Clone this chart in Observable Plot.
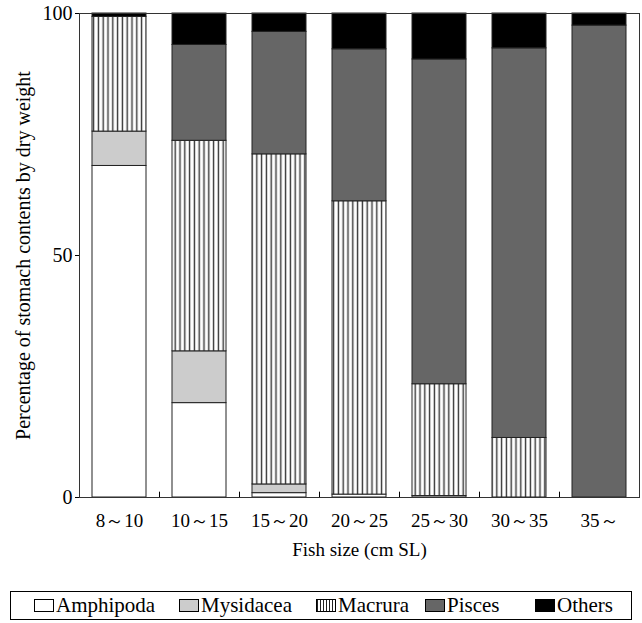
<!DOCTYPE html>
<html><head><meta charset="utf-8">
<script src="https://cdn.jsdelivr.net/npm/d3@7"></script>
<script src="https://cdn.jsdelivr.net/npm/@observablehq/plot@0.6"></script>
<style>
body{margin:0;background:#fff;font-family:"Liberation Serif","Times New Roman",serif;color:#000;}
#legend{position:relative;margin-left:10px;width:620px;height:27px;border:1px solid #000;margin-top:26px;font-size:21px;}
.item{position:absolute;top:1px;display:flex;align-items:center;white-space:nowrap;}
.item svg{margin-right:2px;}
</style></head><body>
<svg width="0" height="0" style="position:absolute"><defs>
<pattern id="macrura" patternUnits="userSpaceOnUse" width="4.8" height="10"><rect width="4.8" height="10" fill="#fff"/><line x1="2.4" y1="0" x2="2.4" y2="10" stroke="#333" stroke-width="1.4"/></pattern>
<pattern id="macruraSmall" patternUnits="userSpaceOnUse" width="3" height="10"><rect width="3" height="10" fill="#fff"/><line x1="1.5" y1="0" x2="1.5" y2="10" stroke="#222" stroke-width="1"/></pattern>
</defs></svg>
<div id="chart"></div>
<div id="legend"></div>
<script>
const sizes = ["8～10", "10～15", "15～20", "20～25", "25～30", "30～35", "35～"];
const preyTypes = ["Amphipoda", "Mysidacea", "Macrura", "Pisces", "Others"];
const amphipoda = [68.5, 19.5, 0.9, 0.6, 0.3, 0, 0];
const mysidacea = [7.1, 10.7, 1.8, 0, 0, 0, 0];
const macrura   = [23.7, 43.5, 68.2, 60.6, 23.1, 12.3, 0];
const pisces    = [0, 19.8, 25.3, 31.4, 67.1, 80.5, 97.5];
const others    = [0.7, 6.5, 3.8, 7.4, 9.5, 7.2, 2.5];
const yTicks = [0, 50, 100];
const fills = ["#ffffff", "#cccccc", "url(#macrura)", "#666666", "#000000"];
const legendFills = ["#ffffff", "#cccccc", "url(#macruraSmall)", "#666666", "#000000"];

const series = [amphipoda, mysidacea, macrura, pisces, others];
const data = [];
preyTypes.forEach((t, i) => sizes.forEach((s, j) => {
  if (series[i][j] > 0) data.push({size: s, type: t, value: series[i][j]});
}));

const chart = Plot.plot({
  width: 642, height: 565,
  marginLeft: 79, marginRight: 3, marginTop: 13, marginBottom: 68,
  style: {fontFamily: '"Liberation Serif","Times New Roman",serif', fontSize: "20px", color: "#000", background: "#fff"},
  x: {domain: sizes, paddingInner: 0.325, paddingOuter: 0.1625},
  y: {domain: [0, 100]},
  color: {domain: preyTypes, range: fills},
  marks: [
    Plot.barY(data, {x: "size", y: "value", fill: "type", stroke: "#222", strokeWidth: 1}),
    Plot.frame({stroke: "#333"}),
    Plot.ruleX(sizes.slice(0, -1), {x: d => d, dx: 40, y1: 0, y2: 1.1, stroke: "#000"}),
    Plot.axisX({tickSize: 0, tickPadding: 16, fontSize: 19, label: "Fish size (cm SL)", labelAnchor: "center", labelOffset: 58}),
    Plot.axisY({ticks: yTicks, tickSize: 4, tickPadding: 3, fontSize: 20, label: "Percentage of stomach contents by dry weight", labelAnchor: "center", labelArrow: "none", labelOffset: 64})
  ]
});
document.getElementById("chart").appendChild(chart);

const lefts = [23, 168, 305, 414, 524];
const legend = document.getElementById("legend");
preyTypes.forEach((t, i) => {
  const it = document.createElement("div");
  it.className = "item";
  it.style.left = lefts[i] + "px";
  it.innerHTML = `<svg width="20" height="13"><rect x="0.5" y="0.5" width="19" height="12" fill="${legendFills[i]}" stroke="#000"/></svg><span>${t}</span>`;
  legend.appendChild(it);
});
</script>
</body></html>
